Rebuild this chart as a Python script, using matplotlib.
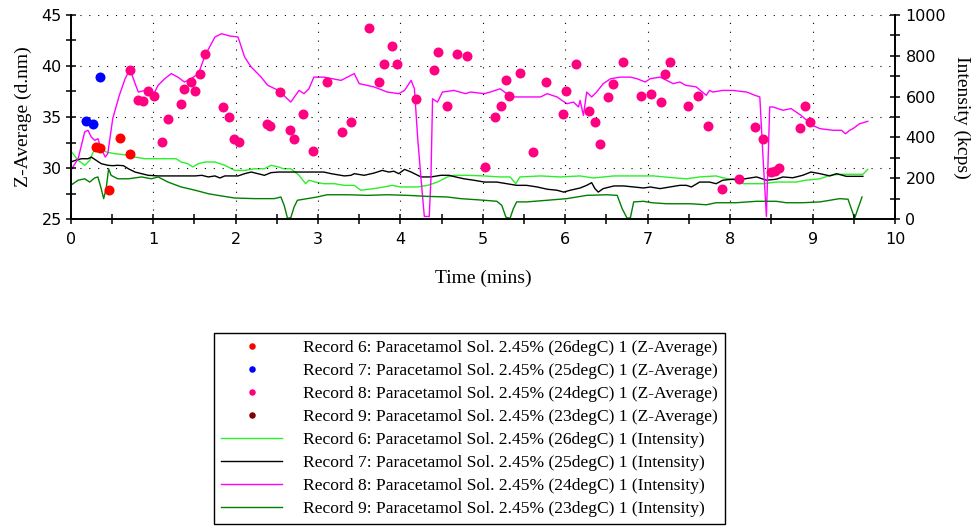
import matplotlib
matplotlib.use("Agg")
import matplotlib.pyplot as plt
from matplotlib.ticker import MultipleLocator

# ---- Z-Average (d.nm) measurements: time (mins) and size ----
rec6_z_time = [0.31, 0.36, 0.47, 0.60, 0.72]
rec6_z = [32.1, 32.0, 27.9, 32.9, 31.4]

rec7_z_time = [0.19, 0.27, 0.35]
rec7_z = [34.6, 34.3, 38.9]

rec8_z_time = [0.72, 0.82, 0.88, 0.94, 1.01, 1.11, 1.18, 1.34, 1.38, 1.46,
               1.51, 1.57, 1.63, 1.85, 1.92, 1.98, 2.04, 2.38, 2.42, 2.54,
               2.66, 2.71, 2.82, 2.94, 3.11, 3.29, 3.40, 3.62, 3.74, 3.80,
               3.90, 3.96, 4.19, 4.41, 4.46, 4.56, 4.69, 4.81, 5.03, 5.15,
               5.22, 5.28, 5.32, 5.45, 5.61, 5.77, 5.97, 6.01, 6.13, 6.29,
               6.36, 6.42, 6.52, 6.58, 6.70, 6.92, 7.04, 7.16, 7.21, 7.27,
               7.49, 7.61, 7.73, 7.90, 8.11, 8.30, 8.40, 8.50, 8.55, 8.59,
               8.85, 8.91, 8.97]
rec8_z = [39.55, 36.71, 36.61, 37.59, 37.10, 32.52, 34.80, 36.27, 37.75, 38.40,
          37.59, 39.22, 41.18, 35.95, 34.97, 32.84, 32.52, 34.31, 34.16, 37.45,
          33.70, 32.88, 35.33, 31.70, 38.42, 33.50, 34.48, 43.70, 38.40, 40.20,
          41.90, 40.20, 36.76, 39.55, 41.34, 36.12, 41.18, 40.92, 30.07, 34.97,
          36.12, 38.57, 37.10, 39.28, 31.54, 38.40, 35.29, 37.59, 40.20, 35.62,
          34.48, 32.35, 36.93, 38.24, 40.36, 37.10, 37.25, 36.44, 39.22, 40.36,
          36.12, 37.10, 34.16, 27.94, 28.92, 33.99, 32.84, 29.58, 29.74, 29.97,
          33.89, 36.12, 34.48]

rec9_z_time = []
rec9_z = []

# ---- Count rate (kcps) traces ----
rec6_i_time = [0.0, 0.09, 0.17, 0.23, 0.29, 0.35, 0.43, 0.53, 0.70, 0.78,
               0.90, 1.02, 1.18, 1.28, 1.34, 1.42, 1.48, 1.55, 1.63, 1.75,
               1.87, 1.99, 2.11, 2.23, 2.35, 2.43, 2.52, 2.58, 2.67, 2.77,
               2.85, 2.89, 2.97, 3.07, 3.20, 3.32, 3.44, 3.52, 3.68, 3.80,
               3.90, 4.00, 4.09, 4.21, 4.33, 4.45, 4.57, 4.65, 4.81, 5.01,
               5.21, 5.33, 5.40, 5.45, 5.70, 5.94, 6.18, 6.34, 6.59, 6.83,
               7.07, 7.31, 7.47, 7.63, 7.83, 7.91, 8.07, 8.16, 8.40, 8.56,
               8.80, 8.92, 9.09, 9.21, 9.33, 9.49, 9.61, 9.67]
rec6_i = [335, 288, 264, 288, 345, 353, 329, 321, 313, 304,
          296, 296, 296, 296, 280, 272, 256, 272, 280, 280,
          264, 239, 239, 247, 247, 264, 256, 247, 247, 215,
          174, 191, 182, 174, 174, 166, 166, 142, 150, 158,
          166, 158, 158, 158, 166, 182, 207, 215, 215, 212,
          207, 207, 174, 207, 212, 207, 212, 202, 212, 212,
          212, 203, 198, 207, 212, 203, 191, 174, 174, 182,
          182, 191, 198, 215, 220, 220, 220, 244]

rec7_i_time = [0.0, 0.07, 0.13, 0.21, 0.25, 0.31, 0.37, 0.45, 0.51, 0.57,
               0.64, 0.70, 0.78, 0.86, 0.94, 1.06, 1.26, 1.51, 1.59, 1.67,
               1.75, 1.81, 1.87, 2.03, 2.11, 2.19, 2.27, 2.35, 2.43, 2.52,
               2.71, 3.07, 3.16, 3.32, 3.40, 3.44, 3.56, 3.68, 3.78, 3.86,
               3.92, 3.98, 4.05, 4.13, 4.25, 4.37, 4.49, 4.59, 4.67, 4.77,
               4.89, 5.02, 5.17, 5.29, 5.41, 5.53, 5.66, 5.78, 5.90, 5.98,
               6.06, 6.18, 6.26, 6.32, 6.36, 6.40, 6.46, 6.59, 6.71, 6.83,
               6.95, 7.03, 7.15, 7.27, 7.39, 7.47, 7.53, 7.63, 7.75, 7.83,
               7.91, 8.03, 8.18, 8.32, 8.44, 8.56, 8.64, 8.76, 8.88, 8.98,
               9.09, 9.21, 9.29, 9.41, 9.61]
rec7_i = [280, 290, 296, 296, 304, 288, 272, 264, 262, 264,
          262, 247, 231, 223, 215, 212, 212, 212, 215, 207,
          212, 202, 212, 212, 223, 231, 223, 215, 228, 231,
          231, 231, 223, 212, 215, 223, 215, 226, 239, 231,
          235, 223, 244, 231, 207, 207, 215, 215, 207, 198,
          191, 182, 182, 174, 166, 166, 158, 147, 142, 133,
          142, 153, 166, 179, 150, 133, 150, 163, 163, 158,
          153, 158, 150, 158, 166, 166, 158, 182, 182, 174,
          191, 196, 198, 207, 191, 196, 207, 203, 215, 231,
          223, 212, 223, 210, 210]

rec8_i_time = [0.0, 0.09, 0.17, 0.21, 0.25, 0.29, 0.33, 0.37, 0.42, 0.45,
               0.51, 0.59, 0.66, 0.72, 0.76, 0.82, 0.90, 1.00, 1.06, 1.14,
               1.22, 1.30, 1.38, 1.46, 1.55, 1.63, 1.75, 1.83, 1.93, 2.03,
               2.11, 2.19, 2.31, 2.39, 2.52, 2.67, 2.77, 2.83, 2.89, 2.95,
               3.07, 3.28, 3.44, 3.50, 3.68, 3.84, 3.98, 4.05, 4.13, 4.17,
               4.21, 4.25, 4.29, 4.35, 4.37, 4.39, 4.45, 4.51, 4.65, 4.79,
               4.85, 5.02, 5.09, 5.21, 5.29, 5.37, 5.49, 5.70, 5.78, 5.84,
               5.90, 5.96, 6.02, 6.10, 6.16, 6.18, 6.22, 6.26, 6.32, 6.38,
               6.46, 6.55, 6.67, 6.79, 6.87, 6.97, 7.03, 7.15, 7.23, 7.31,
               7.39, 7.46, 7.59, 7.71, 7.75, 7.79, 7.91, 8.03, 8.20, 8.30,
               8.36, 8.40, 8.44, 8.48, 8.52, 8.64, 8.74, 8.86, 9.00, 9.09,
               9.25, 9.35, 9.40, 9.45, 9.49, 9.57, 9.67]
rec8_i = [238, 296, 427, 435, 402, 386, 394, 345, 304, 321,
          492, 606, 687, 733, 687, 622, 630, 606, 655, 687,
          712, 695, 671, 687, 712, 801, 891, 907, 896, 891,
          793, 744, 695, 655, 630, 573, 630, 614, 638, 695,
          695, 679, 712, 663, 647, 622, 614, 630, 679, 638,
          394, 198, 14, 14, 198, 589, 573, 622, 630, 614,
          622, 614, 622, 638, 614, 598, 598, 598, 614, 606,
          598, 581, 565, 573, 549, 581, 508, 622, 598, 622,
          663, 687, 695, 695, 687, 671, 687, 695, 679, 663,
          671, 655, 647, 606, 630, 622, 630, 630, 622, 606,
          598, 296, 14, 549, 549, 533, 541, 508, 459, 443,
          435, 435, 418, 435, 443, 467, 479]

rec9_i_time = [0.0, 0.09, 0.17, 0.23, 0.29, 0.33, 0.37, 0.40, 0.43, 0.46,
               0.49, 0.57, 0.70, 0.86, 0.98, 1.06, 1.18, 1.34, 1.51, 1.67,
               1.83, 1.99, 2.23, 2.47, 2.55, 2.59, 2.63, 2.67, 2.71, 2.75,
               2.87, 2.99, 3.11, 3.36, 3.60, 3.84, 4.09, 4.33, 4.57, 4.73,
               5.02, 5.17, 5.23, 5.28, 5.33, 5.37, 5.41, 5.53, 5.78, 6.02,
               6.26, 6.50, 6.63, 6.69, 6.75, 6.79, 6.83, 6.95, 7.05, 7.23,
               7.52, 7.71, 7.83, 8.07, 8.32, 8.56, 8.68, 8.88, 9.09, 9.33,
               9.43, 9.47, 9.51, 9.55, 9.60]
rec9_i = [166, 191, 198, 182, 202, 207, 150, 101, 150, 247,
          215, 198, 198, 207, 198, 207, 182, 158, 142, 125,
          114, 104, 101, 101, 109, 68, 5, 8, 60, 93,
          101, 109, 120, 120, 117, 120, 117, 112, 109, 101,
          93, 88, 68, 10, 5, 52, 85, 85, 93, 101,
          117, 120, 117, 52, 5, 8, 85, 88, 81, 76,
          76, 71, 81, 81, 88, 88, 81, 81, 85, 101,
          98, 52, 5, 52, 109]

labels_z = ["Record 6: Paracetamol Sol. 2.45% (26degC) 1 (Z-Average)",
            "Record 7: Paracetamol Sol. 2.45% (25degC) 1 (Z-Average)",
            "Record 8: Paracetamol Sol. 2.45% (24degC) 1 (Z-Average)",
            "Record 9: Paracetamol Sol. 2.45% (23degC) 1 (Z-Average)"]
labels_i = ["Record 6: Paracetamol Sol. 2.45% (26degC) 1 (Intensity)",
            "Record 7: Paracetamol Sol. 2.45% (25degC) 1 (Intensity)",
            "Record 8: Paracetamol Sol. 2.45% (24degC) 1 (Intensity)",
            "Record 9: Paracetamol Sol. 2.45% (23degC) 1 (Intensity)"]

SERIF = "Liberation Serif"
SANS = "DejaVu Sans"

W, H = 977, 527
fig = plt.figure(figsize=(W / 100, H / 100), dpi=100)
x0, x1, y0, y1 = 70.7, 895.0, 14.7, 219.3
ax = fig.add_axes([x0 / W, 1 - y1 / H, (x1 - x0) / W, (y1 - y0) / H])
ax2 = ax.twinx()

# intensity traces on the right-hand axis
line_specs = [(rec6_i_time, rec6_i, "#2af02a"),
              (rec7_i_time, rec7_i, "#000000"),
              (rec8_i_time, rec8_i, "#ff00ff"),
              (rec9_i_time, rec9_i, "#008000")]
line_handles = []
for (t, v, c), lab in zip(line_specs, labels_i):
    h, = ax2.plot(t, v, color=c, lw=1.0, label=lab)
    line_handles.append(h)

# Z-Average points on the left-hand axis, drawn above the traces
pt_specs = [(rec6_z_time, rec6_z, "#ff0000"),
            (rec7_z_time, rec7_z, "#0000ff"),
            (rec8_z_time, rec8_z, "#ff0080"),
            (rec9_z_time, rec9_z, "#800000")]
pt_handles = []
for (t, v, c), lab in zip(pt_specs, labels_z):
    h, = ax.plot(t, v, "o", color=c, ms=7.2, mec="none", label=lab)
    pt_handles.append(h)

ax.set_zorder(ax2.get_zorder() + 1)
ax.patch.set_visible(False)

ax.set_xlim(0, 10)
ax.set_ylim(25, 45)
ax2.set_ylim(0, 1000)

ax.xaxis.set_major_locator(MultipleLocator(1))
ax.xaxis.set_minor_locator(MultipleLocator(0.5))
ax.yaxis.set_major_locator(MultipleLocator(5))
ax.yaxis.set_minor_locator(MultipleLocator(2.5))
ax2.yaxis.set_major_locator(MultipleLocator(200))
ax2.yaxis.set_minor_locator(MultipleLocator(100))

for a in (ax, ax2):
    a.spines["top"].set_visible(False)
    for s in a.spines.values():
        s.set_linewidth(1.2)
    a.tick_params(which="both", direction="inout", length=7, width=1.1,
                  labelsize=11.5, colors="black")
ax.tick_params(axis="x", pad=6)
ax.tick_params(axis="y", pad=3)
ax2.tick_params(axis="y", pad=4)
for lab in ax.get_xticklabels() + ax.get_yticklabels() + ax2.get_yticklabels():
    lab.set_fontfamily(SANS)

ax.grid(True, which="major", color="black", linestyle=(0, (1, 7)), linewidth=0.8)

ax.set_xlabel("Time (mins)", fontfamily=SERIF, fontsize=14, va="center")
ax.xaxis.set_label_coords(0.5, (y1 - 278) / (y1 - y0))
ax.set_ylabel("Z-Average (d.nm)", fontfamily=SERIF, fontsize=14, va="center")
ax.yaxis.set_label_coords((23 - x0) / (x1 - x0), 0.5)
ax2.set_ylabel("Intensity (kcps)", fontfamily=SERIF, fontsize=14, rotation=270,
               va="center")
ax2.yaxis.set_label_coords((962 - x0) / (x1 - x0), 0.5)

leg = fig.legend(pt_handles + line_handles, labels_z + labels_i,
                 loc="upper left", bbox_to_anchor=(214 / W, 1 - 332.7 / H),
                 bbox_transform=fig.transFigure, frameon=True, fancybox=False,
                 edgecolor="black", framealpha=1, borderaxespad=0,
                 prop={"family": SERIF, "size": 12.6}, handlelength=3.5,
                 handletextpad=1.2, borderpad=0.4, labelspacing=0.39,
                 markerscale=0.65)
leg.get_frame().set_linewidth(1.0)

fig.savefig("out.png", dpi=100)
